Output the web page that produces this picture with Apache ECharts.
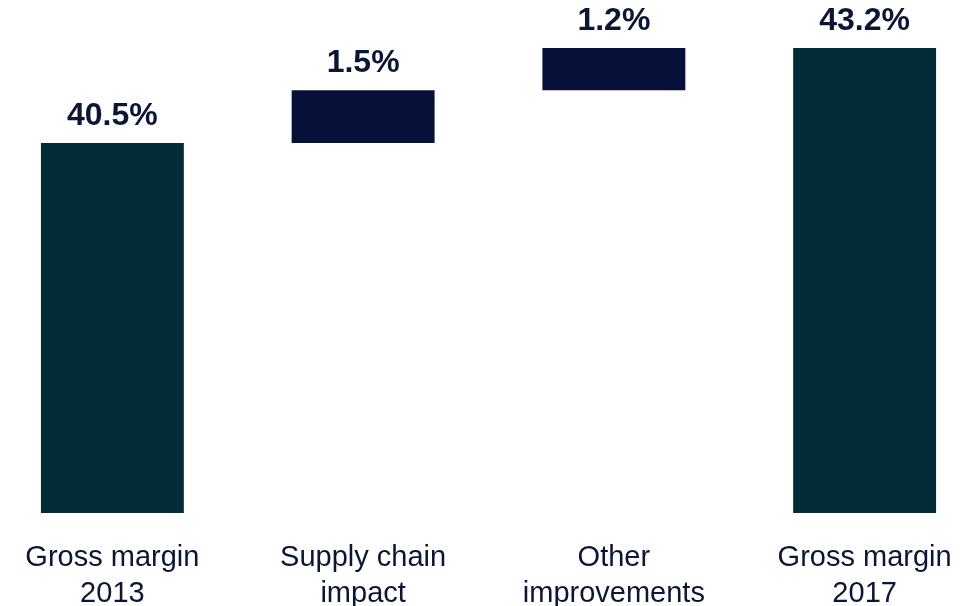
<!DOCTYPE html>
<html><head><meta charset="utf-8">
<script src="https://cdn.jsdelivr.net/npm/echarts@6/dist/echarts.min.js"></script>
<style>html,body{margin:0;padding:0;background:#fff}#c{width:975px;height:606px}</style>
</head><body><div id="c"></div>
<script>
const categories = ['Gross margin\n2013', 'Supply chain\nimpact', 'Other\nimprovements', 'Gross margin\n2017'];
const values = [40.5, 1.5, 1.2, 43.2];
const isTotal = [true, false, false, true];
const totalColor = '#022d38';
const deltaColor = '#061039';

// compute invisible bases from the values
const bases = [];
let running = 0;
values.forEach((v, i) => {
  if (isTotal[i]) { bases.push(0); running = v; }
  else { bases.push(running); running += v; }
});

const chart = echarts.init(document.getElementById('c'), null, {renderer: 'canvas'});
chart.setOption({
  animation: false,
  grid: {left: -13, right: -15, top: 48, bottom: 93, containLabel: false, outerBoundsMode: 'none'},
  xAxis: {
    type: 'category', data: categories,
    axisLine: {show: false}, axisTick: {show: false},
    axisLabel: {
      interval: 0, margin: 27,
      fontFamily: 'Liberation Sans, Arial, sans-serif', fontSize: 29, lineHeight: 36,
      color: '#0b1535'
    }
  },
  yAxis: {type: 'value', min: 30, max: 43.2, show: false},
  series: [
    {type: 'bar', stack: 'w', data: bases, itemStyle: {color: 'transparent'}, barWidth: '57%', silent: true},
    {type: 'bar', stack: 'w', barWidth: '57%',
     data: values.map((v, i) => ({value: v, itemStyle: {color: isTotal[i] ? totalColor : deltaColor}})),
     label: {
       show: true, position: 'top', distance: 11,
       formatter: p => values[p.dataIndex].toFixed(1) + '%',
       fontFamily: 'Liberation Sans, Arial, sans-serif', fontWeight: 'bold', fontSize: 32,
       color: '#0b1535'
     }
    }
  ]
});
</script></body></html>
